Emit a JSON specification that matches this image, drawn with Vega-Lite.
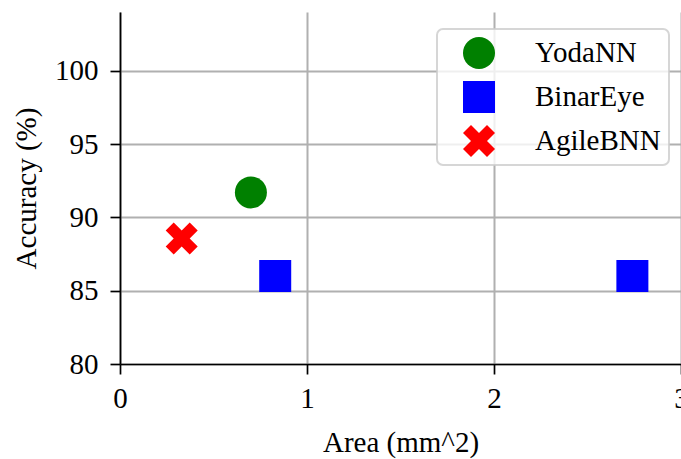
{
  "$schema": "https://vega.github.io/schema/vega-lite/v6.json",
  "width": 561,
  "height": 352,
  "autosize": {"type": "none"},
  "padding": {"left": 120, "top": 12, "right": 0, "bottom": 95},
  "background": "white",
  "config": {
    "view": {"stroke": null},
    "font": "Liberation Serif",
    "axis": {
      "labelFont": "Liberation Serif",
      "titleFont": "Liberation Serif",
      "labelFontSize": 29,
      "titleFontSize": 29,
      "titleFontWeight": "normal",
      "labelColor": "black",
      "titleColor": "black",
      "domainColor": "black",
      "domainWidth": 1.7,
      "tickColor": "black",
      "tickWidth": 1.7,
      "tickSize": 10,
      "labelPadding": 10,
      "gridColor": "#b0b0b0",
      "gridWidth": 2,
      "gridOpacity": 1
    },
    "legend": {
      "labelFont": "Liberation Serif",
      "labelFontSize": 29,
      "labelColor": "black",
      "strokeWidth": 2
    }
  },
  "data": {
    "values": [
      {"model": "YodaNN", "area": 0.70, "accuracy": 91.7},
      {"model": "BinarEye", "area": 0.83, "accuracy": 86.0},
      {"model": "BinarEye", "area": 2.74, "accuracy": 86.0},
      {"model": "AgileBNN", "area": 0.33, "accuracy": 88.55}
    ]
  },
  "mark": {"type": "point", "filled": true, "opacity": 1, "size": 1024, "strokeWidth": 0},
  "encoding": {
    "x": {
      "field": "area",
      "type": "quantitative",
      "scale": {"domain": [0, 3], "nice": false, "zero": false},
      "axis": {"title": "Area (mm^2)", "values": [0, 1, 2, 3], "titlePadding": 15, "labelFlush": false}
    },
    "y": {
      "field": "accuracy",
      "type": "quantitative",
      "scale": {"domain": [80, 104], "nice": false, "zero": false},
      "axis": {"title": "Accuracy (%)", "values": [80, 85, 90, 95, 100], "titlePadding": 13, "labelPadding": 12, "labelFlush": false}
    },
    "color": {
      "field": "model",
      "type": "nominal",
      "scale": {"domain": ["YodaNN", "BinarEye", "AgileBNN"], "range": ["#008000", "#0000ff", "#ff0000"]},
      "legend": {
        "title": null,
        "orient": "none",
        "legendX": 317,
        "legendY": 17,
        "padding": 8,
        "symbolOffset": 18,
        "symbolSize": 1024,
        "symbolStrokeWidth": 0,
        "symbolOpacity": 1,
        "labelOffset": 40,
        "rowPadding": 12,
        "labelExpr": "datum.label + '  '",
        "fillColor": "rgba(255,255,255,0.8)",
        "strokeColor": "rgba(204,204,204,0.8)",
        "cornerRadius": 6
      }
    },
    "shape": {
      "field": "model",
      "type": "nominal",
      "scale": {
        "domain": ["YodaNN", "BinarEye", "AgileBNN"],
        "range": ["circle", "square", "M-0.5,-1L0,-0.5L0.5,-1L1,-0.5L0.5,0L1,0.5L0.5,1L0,0.5L-0.5,1L-1,0.5L-0.5,0L-1,-0.5Z"]
      }
    }
  }
}
